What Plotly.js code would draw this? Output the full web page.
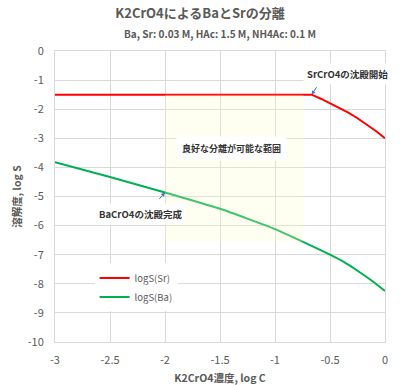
<!DOCTYPE html>
<html>
<head>
<meta charset="utf-8">
<script src="https://cdn.plot.ly/plotly-3.0.1.min.js"></script>
<style>html,body{margin:0;padding:0;background:#fff;}#chart{width:400px;height:385px;}</style>
</head>
<body>
<div id="chart"></div>
<script>
// Data
const logC_Sr = [-3, -2.5, -2, -1.5, -1, -0.667, -0.583, -0.5, -0.417, -0.333, -0.25, -0.167, -0.083, 0];
const logS_Sr = [-1.5, -1.5, -1.5, -1.5, -1.5, -1.5, -1.64, -1.8, -1.95, -2.12, -2.31, -2.52, -2.75, -3.0];
const logC_Ba = [-3, -2.5, -2, -1.5, -1.25, -1, -0.75, -0.5, -0.375, -0.25, -0.125, 0];
const logS_Ba = [-3.82, -4.33, -4.86, -5.42, -5.76, -6.12, -6.55, -7.0, -7.25, -7.55, -7.88, -8.25];
const seriesNames = ['logS(Sr)', 'logS(Ba)'];
const xTicks = [-3, -2.5, -2, -1.5, -1, -0.5, 0];
const yTicks = [0, -1, -2, -3, -4, -5, -6, -7, -8, -9, -10];
const rangeX = [-2, -0.74];   // good separation range (x)
const rangeY = [-6.55, -1.5]; // good separation range (y)
const srStart = [-0.667, -1.5];
const baDone = [-2, -4.86];

const FONT = '"Noto Sans CJK JP", "Noto Sans", sans-serif';
const GRAY = '#595959';

const traces = [
  {x: logC_Sr, y: logS_Sr, name: seriesNames[0], mode: 'lines', line: {color: '#FF0000', width: 2}},
  {x: logC_Ba, y: logS_Ba, name: seriesNames[1], mode: 'lines', line: {color: '#00B050', width: 2, shape: 'spline', smoothing: 0.5}}
];

const layout = {
  width: 400, height: 385,
  margin: {l: 55, r: 15, t: 51, b: 43},
  paper_bgcolor: '#fff', plot_bgcolor: '#fff',
  font: {family: FONT, color: GRAY, size: 11},
  title: {text: '<b>K2CrO4によるBaとSrの分離</b>', font: {family: FONT, size: 13, color: GRAY}, x: 0.5, xanchor: 'center', y: 0.965, yanchor: 'middle'},
  showlegend: true,
  legend: {x: 0.12, y: 0.27, xanchor: 'left', yanchor: 'top', bgcolor: '#fff', font: {size: 9.5, color: GRAY}, tracegroupgap: 0, itemwidth: 30},
  xaxis: {
    range: [-3, 0], tickvals: xTicks, ticktext: xTicks.map(String),
    showgrid: true, gridcolor: '#d9d9d9', gridwidth: 1, zeroline: false,
    showline: true, mirror: true, linecolor: '#d9d9d9', linewidth: 1,
    ticks: '', ticklabelstandoff: 8, tickfont: {size: 11, color: GRAY}, automargin: false,
    title: {text: '<b>K2CrO4濃度, log C</b>', font: {size: 10.5, color: GRAY}}
  },
  yaxis: {
    range: [-10, 0], tickvals: yTicks, ticktext: yTicks.map(String),
    showgrid: true, gridcolor: '#d9d9d9', gridwidth: 1, zeroline: false,
    showline: true, mirror: true, linecolor: '#d9d9d9', linewidth: 1,
    ticks: '', ticklabelstandoff: 8, tickfont: {size: 11, color: GRAY}, automargin: true,
    title: {text: '<b>溶解度, log S</b>', font: {size: 10.5, color: GRAY}, standoff: 4}
  },
  shapes: [
    {type: 'rect', xref: 'x', yref: 'y', x0: rangeX[0], x1: rangeX[1], y0: rangeY[0], y1: rangeY[1],
     fillcolor: 'rgba(255,255,200,0.25)', line: {width: 0}, layer: 'above'}
  ],
  annotations: [
    {xref: 'paper', yref: 'paper', x: 0.5, y: 1.0, yshift: 18, xanchor: 'center', yanchor: 'middle', showarrow: false,
     text: '<b>Ba, Sr: 0.03 M, HAc: 1.5 M, NH4Ac: 0.1 M</b>', font: {size: 10, color: GRAY}},
    {xref: 'x', yref: 'y', x: -1.391, y: -3.34, showarrow: false, text: '<b>良好な分離が可能な範囲</b>',
     font: {size: 9, color: '#333'}, bgcolor: '#fff', borderpad: 5},
    {xref: 'x', yref: 'y', x: -0.345, y: -0.8, showarrow: false, text: '<b>SrCrO4の沈殿開始</b>',
     font: {size: 9.5, color: '#333'}, bgcolor: '#fff', borderpad: 3},
    {xref: 'x', yref: 'y', x: -2.227, y: -5.59, showarrow: false, text: '<b>BaCrO4の沈殿完成</b>',
     font: {size: 9.5, color: '#333'}, bgcolor: '#fff', borderpad: 3},
    {xref: 'x', yref: 'y', x: srStart[0], y: srStart[1], text: '', showarrow: true, ax: 6, ay: -9,
     arrowcolor: '#4472C4', arrowwidth: 1, arrowhead: 2, arrowsize: 0.8},
    {xref: 'x', yref: 'y', x: baDone[0], y: baDone[1], text: '', showarrow: true, ax: -7, ay: 8,
     arrowcolor: '#4472C4', arrowwidth: 1, arrowhead: 2, arrowsize: 0.8}
  ]
};

Plotly.newPlot('chart', traces, layout, {staticPlot: true, displayModeBar: false});
</script>
</body>
</html>
